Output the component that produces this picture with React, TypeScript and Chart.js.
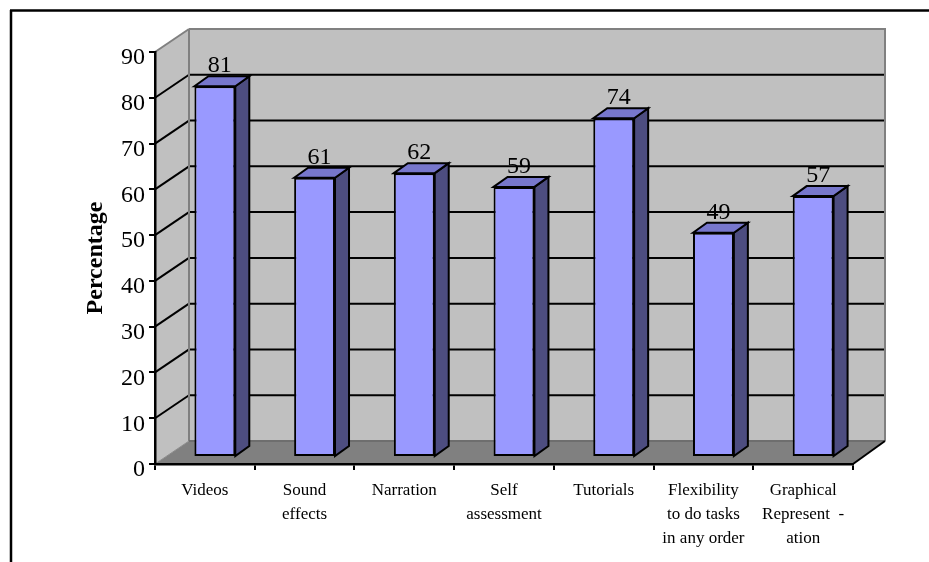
import React, { useEffect, useRef } from "react";
import { Chart, registerables } from "chart.js";

Chart.register(...registerables);

const categories: (string | string[])[] = [
  "Videos",
  ["Sound", "effects"],
  "Narration",
  ["Self", "assessment"],
  "Tutorials",
  ["Flexibility", "to do tasks", "in any order"],
  ["Graphical", "Represent  -", "ation"],
];
const percentages = [81, 61, 62, 59, 74, 49, 57];

const SERIF = "'Liberation Serif', 'Times New Roman', serif";
const WALL = { dx: 34, dxRight: 32, dy: -23 };
const BAR_OFFSET = { dx: 10, dy: -7 };
const BAR_DEPTH = { dx: 14, dy: -10 };

const poly = (ctx: CanvasRenderingContext2D, pts: number[][], fill?: string, stroke?: string, lw = 2) => {
  ctx.beginPath();
  pts.forEach(([x, y], i) => (i ? ctx.lineTo(x, y) : ctx.moveTo(x, y)));
  ctx.closePath();
  if (fill) {
    ctx.fillStyle = fill;
    ctx.fill();
  }
  if (stroke) {
    ctx.strokeStyle = stroke;
    ctx.lineWidth = lw;
    ctx.lineJoin = "miter";
    ctx.stroke();
  }
};

const seg = (ctx: CanvasRenderingContext2D, x0: number, y0: number, x1: number, y1: number, color: string, lw = 2) => {
  ctx.beginPath();
  ctx.moveTo(x0, y0);
  ctx.lineTo(x1, y1);
  ctx.strokeStyle = color;
  ctx.lineWidth = lw;
  ctx.stroke();
};

// Outer frame, walls, floor and the perspective gridlines.
const roomPlugin = {
  id: "room",
  beforeDraw(chart: any) {
    const { ctx, chartArea: a, scales } = chart;
    const y = scales.y;
    const { dx, dxRight, dy } = WALL;
    const backL = a.left + dx;
    const backR = a.right + dxRight;
    ctx.save();
    seg(ctx, 10, 10.5, chart.width, 10.5, "#000", 2.5);
    seg(ctx, 11, 10, 11, chart.height, "#000", 2.5);

    const top = y.getPixelForValue(90);
    const bottom = y.getPixelForValue(0);
    poly(ctx, [[a.left, top], [backL, top + dy], [backL, bottom + dy], [a.left, bottom]], "#c0c0c0");
    poly(ctx, [[backL, top + dy], [backR, top + dy], [backR, bottom + dy], [backL, bottom + dy]], "#c0c0c0");
    poly(ctx, [[a.left, bottom], [backL, bottom + dy], [backR, bottom + dy], [a.right, bottom]], "#808080");

    for (const t of y.ticks) {
      if (t.value === 0 || t.value === 90) continue;
      const p = y.getPixelForValue(t.value);
      seg(ctx, a.left, p, backL, p + dy, "#000");
      seg(ctx, backL, p + dy, backR, p + dy, "#000");
    }

    seg(ctx, a.left, top, backL, top + dy, "#808080");
    seg(ctx, backL, top + dy, backR + 1, top + dy, "#808080");
    seg(ctx, backL, top + dy, backL, bottom + dy, "#808080");
    seg(ctx, backR, top + dy, backR, bottom + dy, "#808080");
    seg(ctx, backL, bottom + dy, backR, bottom + dy, "#6e6e6e");
    seg(ctx, a.left, bottom, backL, bottom + dy, "#8c8c8c", 1);
    seg(ctx, a.right, bottom, backR, bottom + dy, "#000");
    ctx.restore();
  },
  // Value-axis numbers sit a little below their tick marks.
  afterDraw(chart: any) {
    const { ctx, chartArea: a, scales } = chart;
    ctx.save();
    ctx.font = `24px ${SERIF}`;
    ctx.fillStyle = "#000";
    ctx.textAlign = "right";
    ctx.textBaseline = "middle";
    for (const t of scales.y.ticks) {
      ctx.fillText(String(t.value), a.left - 10, scales.y.getPixelForValue(t.value) + 6);
    }
    ctx.restore();
  },
};

// Top and side faces of each column; the columns are pushed into the room's depth.
const columnPlugin = {
  id: "columns",
  beforeDatasetsDraw(chart: any) {
    const { ctx } = chart;
    const { dx, dy } = BAR_DEPTH;
    ctx.save();
    ctx.translate(BAR_OFFSET.dx, BAR_OFFSET.dy);
    chart.getDatasetMeta(0).data.forEach((bar: any) => {
      const { x, y, base, width } = bar.getProps(["x", "y", "base", "width"], true);
      const l = x - width / 2;
      const r = x + width / 2;
      poly(ctx, [[r, y], [r + dx, y + dy], [r + dx, base + dy], [r, base]], "#4d4d80", "#000");
      poly(ctx, [[l, y], [l + dx, y + dy], [r + dx, y + dy], [r, y]], "#7777cc", "#000");
    });
  },
  afterDatasetsDraw(chart: any) {
    const { ctx } = chart;
    ctx.restore();
    ctx.save();
    ctx.font = `24px ${SERIF}`;
    ctx.fillStyle = "#000";
    ctx.textAlign = "center";
    ctx.textBaseline = "alphabetic";
    chart.getDatasetMeta(0).data.forEach((bar: any, i: number) => {
      const { x, y } = bar.getProps(["x", "y"], true);
      ctx.fillText(String(percentages[i]), x + BAR_OFFSET.dx + 5, y + BAR_OFFSET.dy - 14);
    });
    ctx.restore();
  },
};

export default function App() {
  const ref = useRef<HTMLCanvasElement>(null);

  useEffect(() => {
    const chart = new Chart(ref.current!, {
      type: "bar",
      data: {
        labels: categories as any,
        datasets: [
          {
            data: percentages,
            backgroundColor: "#9999ff",
            borderColor: "#000",
            borderWidth: 2,
            borderSkipped: false,
            barPercentage: 0.41,
            categoryPercentage: 1,
            clip: false,
          } as any,
        ],
      },
      options: {
        animation: false,
        responsive: false,
        layout: { padding: { left: 80, right: 76, top: 52, bottom: 0 } },
        plugins: { legend: { display: false }, tooltip: { enabled: false } },
        scales: {
          x: {
            afterFit: (s: any) => {
              s.height = 98;
            },
            grid: { drawOnChartArea: false, drawTicks: true, tickLength: 6, color: "#000", lineWidth: 2 },
            border: { color: "#000", width: 2.5 },
            ticks: {
              color: "#000",
              maxRotation: 0,
              autoSkip: false,
              padding: 9,
              font: { family: SERIF, size: 17, lineHeight: 1.41 },
            },
          },
          y: {
            min: 0,
            max: 90,
            afterFit: (s: any) => {
              s.width = 75;
            },
            grid: { drawOnChartArea: false, drawTicks: true, tickLength: 6, color: "#000", lineWidth: 2 },
            border: { color: "#000", width: 2.5 },
            ticks: { display: false, stepSize: 10 },
            title: {
              display: true,
              text: "Percentage",
              color: "#000",
              padding: { top: 4, bottom: 0 },
              font: { family: SERIF, size: 24, weight: "bold", lineHeight: 1 },
            },
          },
        },
      },
      plugins: [roomPlugin, columnPlugin],
    } as any);
    return () => chart.destroy();
  }, []);

  return (
    <div style={{ position: "fixed", left: 0, top: 0, width: 929, height: 562, background: "#fff" }}>
      <canvas ref={ref} width={929} height={562} style={{ display: "block" }} />
    </div>
  );
}
